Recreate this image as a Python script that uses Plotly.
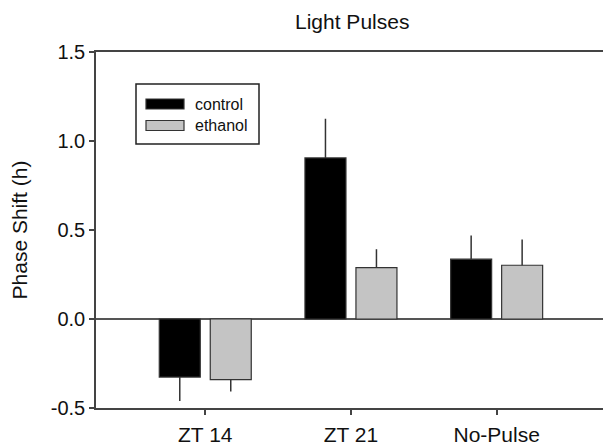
import plotly.graph_objects as go

# ---- data ----
categories = ["ZT 14", "ZT 21", "No-Pulse"]
series_names = ["control", "ethanol"]
control_vals = [-0.326, 0.905, 0.336]
control_err = [0.134, 0.220, 0.133]
ethanol_vals = [-0.341, 0.289, 0.302]
ethanol_err = [0.066, 0.103, 0.145]
y_ticks = [-0.5, 0.0, 0.5, 1.0, 1.5]
title_text = "Light Pulses"
y_title = "Phase Shift (h)"

# ---- styling ----
W, H = 603, 448
ML, MR, MT, MB = 96, 0, 52, 40
FONT = "Liberation Sans, Arial, Helvetica, sans-serif"
AX = "#444444"
TXT = "#111111"
colors = ["#000000", "#c4c4c4"]

def px_x(p):
    return (p - ML) / (W - ML - MR)

def px_y(p):
    return (H - MB - p) / (H - MT - MB)

def up_err(vals, errs):
    return [e if v >= 0 else 0 for v, e in zip(vals, errs)]

def down_err(vals, errs):
    return [e if v < 0 else 0 for v, e in zip(vals, errs)]

fig = go.Figure()
for name, vals, errs, col in zip(series_names, [control_vals, ethanol_vals],
                                 [control_err, ethanol_err], colors):
    fig.add_trace(go.Bar(
        x=list(range(len(categories))), y=vals, name=name,
        marker=dict(color=col, line=dict(color="#333333", width=1.2)),
        error_y=dict(type="data", symmetric=False,
                     array=up_err(vals, errs), arrayminus=down_err(vals, errs),
                     color="#333333", thickness=1.5, width=0),
        showlegend=False,
    ))

fig.update_layout(
    width=W, height=H,
    margin=dict(l=ML, r=MR, t=MT, b=MB, pad=0),
    paper_bgcolor="white", plot_bgcolor="white",
    barmode="group", bargap=0.30, bargroupgap=0.196,
    font=dict(family=FONT, size=20, color=TXT),
)
fig.update_xaxes(
    range=[-0.75, 2.73], tickmode="array",
    tickvals=list(range(len(categories))), ticktext=categories,
    showline=True, linecolor=AX, linewidth=1.5, mirror=True,
    ticks="outside", ticklen=5, tickwidth=1.5, tickcolor=AX,
    showgrid=False, zeroline=False, ticklabelstandoff=2,
    tickfont=dict(size=21, color=TXT),
)
fig.update_yaxes(
    range=[-0.5, 1.5], tickmode="array", tickvals=y_ticks,
    ticktext=[f"{v:.1f}" for v in y_ticks],
    showline=True, linecolor=AX, linewidth=1.5,
    ticks="outside", ticklen=5, tickwidth=1.5, tickcolor=AX,
    showgrid=False, zeroline=True, zerolinecolor="#555555", zerolinewidth=1.5,
    title=dict(text=y_title, font=dict(size=21, color=TXT), standoff=17),
    tickfont=dict(size=20, color=TXT),
)

# title
fig.add_annotation(text=title_text, x=px_x(352), y=px_y(22), xref="paper", yref="paper",
                   xanchor="center", yanchor="middle", showarrow=False,
                   font=dict(size=21, color=TXT))

# manual legend (box, swatches, labels)
fig.add_shape(type="rect", xref="paper", yref="paper",
              x0=px_x(136), x1=px_x(259), y0=px_y(144), y1=px_y(84),
              line=dict(color="#222222", width=1.5), fillcolor="white")
rows = [104, 125.5]
for name, col, cy in zip(series_names, colors, rows):
    fig.add_shape(type="rect", xref="paper", yref="paper",
                  x0=px_x(146), x1=px_x(184), y0=px_y(cy + 5), y1=px_y(cy - 5),
                  line=dict(color="#333333", width=1.2), fillcolor=col)
    fig.add_annotation(text=name, x=px_x(193), y=px_y(cy), xref="paper", yref="paper",
                       xanchor="left", yanchor="middle", showarrow=False,
                       font=dict(size=16, color=TXT))

fig.write_html("out.html")
